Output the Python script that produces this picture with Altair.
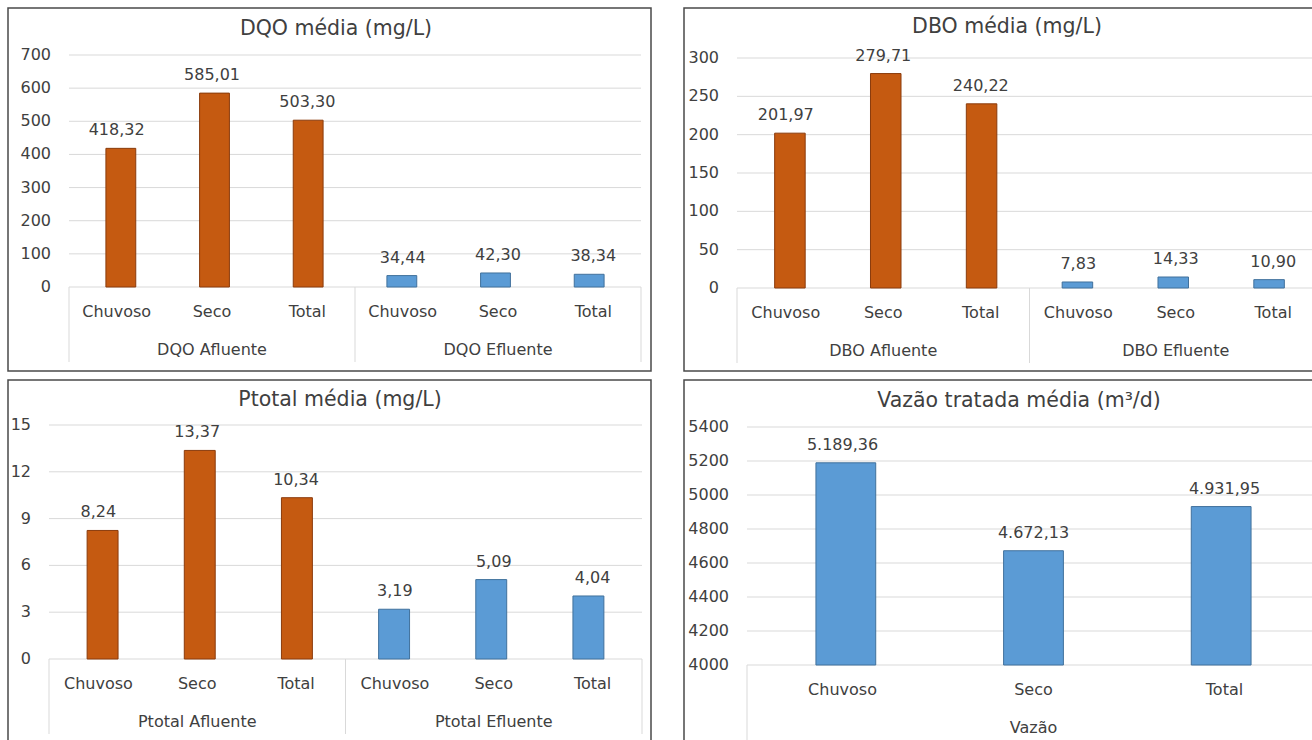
import altair as alt
import pandas as pd

# Categories on the horizontal axis
seasons = ["Chuvoso", "Seco", "Total"]

# Mean values per season
dqo_afluente = [418.32, 585.01, 503.30]
dqo_efluente = [34.44, 42.30, 38.34]
dbo_afluente = [201.97, 279.71, 240.22]
dbo_efluente = [7.83, 14.33, 10.90]
ptotal_afluente = [8.24, 13.37, 10.34]
ptotal_efluente = [3.19, 5.09, 4.04]
vazao_tratada = [5189.36, 4672.13, 4931.95]

# Value-axis ticks
dqo_ticks = [0, 100, 200, 300, 400, 500, 600, 700]
dbo_ticks = [0, 50, 100, 150, 200, 250, 300]
ptotal_ticks = [0, 3, 6, 9, 12, 15]
vazao_ticks = [4000, 4200, 4400, 4600, 4800, 5000, 5200, 5400]

# Styling
ORANGE = ("#C55A11", "#8A3B0C")
BLUE = ("#5B9BD5", "#41719C")
TEXT = "#404040"
GRID = "#D9D9D9"
FRAME = "#4A4A4A"
FONT = "DejaVu Sans"
W, H = 1312, 740


def br(v):
    """Brazilian number format: 5.189,36"""
    s = f"{v:,.2f}"
    return s.replace(",", "_").replace(".", ",").replace("_", ".")


def one():
    return alt.Data(values=[{}])


def panel(title, groups, series, colors, ticks, box, plot, band, title_xy):
    """One Excel-style column chart placed at fixed pixel ranges of the page."""
    left, top, height = plot
    rows = []
    i = 0
    for g, vals, (fill, edge) in zip(groups, series, colors):
        for s, v in zip(seasons, vals):
            rows.append(dict(idx=i, season=s, group=g, value=v,
                             label=br(v), fill=fill, edge=edge))
            i += 1
    df = pd.DataFrame(rows)
    n = len(df)
    right, bottom = left + n * band, top + height

    lo, hi = ticks[0], ticks[-1]
    xs = alt.Scale(domain=[-0.5, n - 0.5], range=[left, right], nice=False, zero=False)
    ys = alt.Scale(domain=[lo, hi], range=[bottom, top], nice=False, zero=False)
    X = alt.X("idx:Q", scale=xs, axis=None)
    Y = alt.Y("value:Q", scale=ys, axis=None, stack=None)

    layers = []

    # panel frame
    bl, bt, bri, bb = box
    layers.append(alt.Chart(one()).mark_rect(
        fillOpacity=0, stroke=FRAME, strokeWidth=1.5).encode(
        x=alt.value(bl), x2=alt.value(bri), y=alt.value(bt), y2=alt.value(bb)))

    # gridlines and value-axis labels
    tdf = pd.DataFrame({"t": ticks, "tl": [str(t) for t in ticks]})
    layers.append(alt.Chart(tdf).mark_rule(color=GRID, strokeWidth=1).encode(
        y=alt.Y("t:Q", scale=ys, axis=None),
        x=alt.value(left), x2=alt.value(right)))
    layers.append(alt.Chart(tdf).mark_text(
        align="right", baseline="middle", font=FONT, fontSize=16, color=TEXT).encode(
        y=alt.Y("t:Q", scale=ys, axis=None),
        x=alt.value(left - 18), text="tl:N"))

    # category table separators
    bdf = pd.DataFrame({"b": [-0.5 + 3 * k for k in range(len(groups) + 1)]})
    layers.append(alt.Chart(bdf).mark_rule(color=GRID, strokeWidth=1).encode(
        x=alt.X("b:Q", scale=xs, axis=None),
        y=alt.value(bottom), y2=alt.value(bottom + 75)))

    # bars
    layers.append(alt.Chart(df).mark_bar(size=band * 0.313, strokeWidth=1).encode(
        x=X, y=Y, y2=alt.datum(lo),
        fill=alt.Fill("fill:N", scale=None),
        stroke=alt.Stroke("edge:N", scale=None)))

    # data labels
    layers.append(alt.Chart(df).mark_text(
        dy=-18, baseline="middle", font=FONT, fontSize=16, color=TEXT).encode(
        x=X, y=Y, text="label:N"))

    # season labels
    layers.append(alt.Chart(df).mark_text(
        baseline="middle", font=FONT, fontSize=16, color=TEXT).encode(
        x=X, y=alt.value(bottom + 25), text="season:N"))

    # group labels
    layers.append(alt.Chart(df).transform_aggregate(
        center="mean(idx)", groupby=["group"]
    ).mark_text(baseline="middle", font=FONT, fontSize=16, color=TEXT).encode(
        x=alt.X("center:Q", scale=xs, axis=None),
        y=alt.value(bottom + 63), text="group:N"))

    # chart title
    tx, ty = title_xy
    layers.append(alt.Chart(one()).mark_text(
        baseline="middle", font=FONT, fontSize=20.5, color=TEXT).encode(
        x=alt.value(tx), y=alt.value(ty), text=alt.value(title)))

    return layers


layers = []
layers += panel("DQO média (mg/L)", ["DQO Afluente", "DQO Efluente"],
                [dqo_afluente, dqo_efluente], [ORANGE, BLUE], dqo_ticks,
                box=(8, 8, 651, 371), plot=(69, 55, 232), band=572 / 6,
                title_xy=(336, 29))
layers += panel("DBO média (mg/L)", ["DBO Afluente", "DBO Efluente"],
                [dbo_afluente, dbo_efluente], [ORANGE, BLUE], dbo_ticks,
                box=(684, 8, 1340, 371), plot=(737, 58, 230), band=97.5,
                title_xy=(1007, 27))
layers += panel("Ptotal média (mg/L)", ["Ptotal Afluente", "Ptotal Efluente"],
                [ptotal_afluente, ptotal_efluente], [ORANGE, BLUE], ptotal_ticks,
                box=(8, 380, 651, 770), plot=(49, 425, 234), band=593 / 6,
                title_xy=(340, 400))
layers += panel("Vazão tratada média (m³/d)", ["Vazão"],
                [vazao_tratada], [BLUE], vazao_ticks,
                box=(684, 380, 1340, 770), plot=(747, 427, 238), band=191,
                title_xy=(1019, 401))

chart = alt.layer(*layers).resolve_scale(
    x="independent", y="independent"
).properties(
    width=W, height=H,
    autosize=alt.AutoSizeParams(type="none"),
    padding=0,
    background="white",
).configure_view(stroke=None)

chart.save("out.html", embed_options={"renderer": "svg", "actions": False})
